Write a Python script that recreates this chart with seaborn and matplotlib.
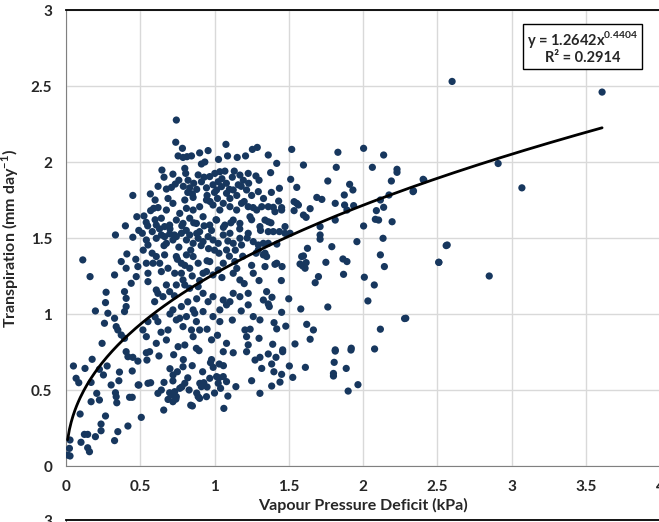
import numpy as np
import pandas as pd
import seaborn as sns
import matplotlib.pyplot as plt

# points (VPD kPa, transpiration mm/day), grouped by area
upper_pts = [
    (0.743, 2.276), (0.739, 2.13), (0.784, 2.09), (0.755, 2.04), (0.788, 2.03), (0.815, 2.035),
    (0.845, 2.04), (0.90, 2.06), (0.957, 2.075), (1.077, 2.116), (1.088, 2.04), (1.027, 2.017),
    (1.153, 2.03), (1.209, 2.04), (1.255, 2.083), (1.288, 2.096), (0.935, 2.0), (0.912, 1.987),
    (0.646, 1.947), (0.80, 1.958), (0.806, 1.925), (0.45, 1.78), (0.568, 1.79), (0.40, 1.58),
    (0.477, 1.64), (0.525, 1.645), (0.54, 1.603), (0.59, 1.695), (0.62, 1.70), (0.676, 1.822),
    (0.71, 1.833), (0.736, 1.855), (0.687, 1.76), (0.80, 1.75), (0.856, 1.767), (1.002, 1.925),
    (1.036, 1.936), (1.07, 1.94), (1.133, 1.94), (1.171, 1.914), (1.227, 1.925), (1.279, 1.908),
    (0.822, 1.88), (0.833, 1.83), (0.851, 1.79), (0.89, 1.915), (0.912, 1.87), (0.946, 1.83),
    (0.968, 1.904), (0.99, 1.85), (1.025, 1.87), (1.014, 1.816), (1.047, 1.838), (1.081, 1.794),
    (1.104, 1.76), (1.126, 1.816), (1.16, 1.85), (1.194, 1.88), (1.216, 1.816), (1.25, 1.78),
    (1.295, 1.805), (1.318, 1.706), (1.34, 1.618), (1.284, 1.684), (1.227, 1.706), (1.182, 1.728),
    (1.149, 1.684), (1.104, 1.706), (1.059, 1.728), (1.036, 1.684), (0.99, 1.717), (0.946, 1.75),
    (0.90, 1.706), (0.856, 1.684), (0.811, 1.695), (0.766, 1.662), (0.743, 1.618), (0.788, 1.596),
    (0.833, 1.63), (0.878, 1.596), (0.923, 1.64), (0.968, 1.585), (1.014, 1.618), (1.07, 1.585),
    (1.126, 1.618), (1.171, 1.596), (1.239, 1.64), (1.306, 1.575), (0.72, 1.728), (0.676, 1.684),
    (0.642, 1.63), (0.664, 1.575), (0.608, 1.585), (0.698, 1.585),
    (0.72, 1.92), (0.76, 1.88), (0.79, 1.84), (0.82, 1.80), (0.86, 1.86), (0.88, 1.82),
    (0.93, 1.90), (0.95, 1.78), (0.97, 1.74), (1.00, 1.80), (1.02, 1.76), (1.05, 1.89),
    (1.08, 1.86), (1.10, 1.82), (1.12, 1.90), (1.15, 1.78), (1.18, 1.84), (1.20, 1.74),
    (1.23, 1.86), (1.26, 1.70), (1.30, 1.88), (1.33, 1.76), (0.62, 1.84), (0.66, 1.90),
    (0.60, 1.75), (0.57, 1.68),
]
upper_right_pts = [
    (1.362, 2.046), (1.52, 2.083), (1.419, 1.991), (1.378, 1.93), (1.599, 1.98), (1.831, 2.064),
    (2.004, 2.09), (2.139, 2.046), (1.82, 1.965), (2.063, 1.965), (2.229, 1.952), (2.229, 1.932),
    (1.513, 1.886), (1.554, 1.833), (1.437, 1.827), (1.383, 1.80), (1.763, 1.875), (1.91, 1.853),
    (1.932, 1.816), (1.874, 1.783), (2.191, 1.875), (2.405, 1.886), (2.337, 1.805), (2.175, 1.783),
    (2.117, 1.75), (2.139, 1.702), (2.09, 1.68), (2.083, 1.623), (2.105, 1.618), (2.196, 1.607),
    (2.004, 1.579), (1.432, 1.743), (1.362, 1.706), (1.396, 1.702), (1.452, 1.70), (1.407, 1.673),
    (1.452, 1.684), (1.536, 1.739), (1.554, 1.728), (1.565, 1.717), (1.536, 1.68), (1.644, 1.693),
    (1.689, 1.767), (1.723, 1.754), (1.813, 1.728), (1.876, 1.717), (1.892, 1.684), (1.937, 1.713),
    (1.599, 1.651), (1.617, 1.636), (1.813, 1.618), (1.711, 1.575), (1.475, 1.575), (1.362, 1.607),
    (1.38, 1.60),
]
middle_pts = [
    (0.333, 1.52), (0.45, 1.505), (0.514, 1.531), (0.541, 1.487), (0.552, 1.454), (0.581, 1.542),
    (0.608, 1.498), (0.642, 1.52), (0.664, 1.509), (0.676, 1.465), (0.698, 1.527), (0.72, 1.487),
    (0.743, 1.509), (0.777, 1.531), (0.811, 1.487), (0.833, 1.52), (0.856, 1.465), (0.89, 1.498),
    (0.90, 1.542), (0.923, 1.476), (0.957, 1.509), (0.99, 1.487), (1.025, 1.465), (1.059, 1.52),
    (1.104, 1.531), (1.126, 1.465), (1.171, 1.498), (1.227, 1.531), (1.261, 1.476), (1.295, 1.454),
    (1.329, 1.465), (0.113, 1.356), (0.162, 1.246), (0.27, 1.143), (0.198, 1.02), (0.266, 1.075),
    (0.282, 1.005), (0.327, 1.257), (0.372, 1.345), (0.41, 1.395), (0.405, 1.301), (0.439, 1.202),
    (0.484, 1.312), (0.473, 1.246), (0.541, 1.334), (0.552, 1.268), (0.552, 1.213), (0.586, 1.334),
    (0.608, 1.378), (0.631, 1.334), (0.642, 1.279), (0.664, 1.389), (0.687, 1.301), (0.732, 1.268),
    (0.743, 1.378), (0.777, 1.334), (0.777, 1.268), (0.788, 1.224), (0.811, 1.389), (0.833, 1.301),
    (0.856, 1.378), (0.89, 1.334), (0.923, 1.268), (0.946, 1.279), (0.968, 1.345), (0.99, 1.257),
    (1.025, 1.29), (1.059, 1.334), (1.081, 1.421), (1.126, 1.268), (1.137, 1.345), (1.171, 1.224),
    (1.182, 1.454), (1.227, 1.136), (1.261, 1.268), (1.295, 1.421), (1.329, 1.389), (1.34, 1.312),
    (0.608, 1.158), (0.619, 1.136), (0.653, 1.114), (0.676, 1.191), (0.698, 1.147), (0.597, 1.081),
    (0.743, 1.191), (0.80, 1.191), (0.833, 1.169), (0.89, 1.18), (0.923, 1.136), (0.957, 1.081),
    (0.99, 1.114), (1.036, 1.027), (1.059, 1.092), (1.081, 1.06), (1.104, 1.081), (1.126, 1.136),
    (1.171, 1.114), (1.227, 1.06), (1.261, 0.983), (1.306, 0.961), (1.329, 1.092), (0.394, 1.147),
    (0.405, 1.103), (0.327, 0.972), (0.338, 0.917), (0.349, 0.895), (0.372, 0.862), (0.394, 0.84),
    (0.405, 1.049), (0.394, 1.016), (0.518, 0.895), (0.541, 0.851), (0.552, 0.95), (0.619, 0.95),
    (0.608, 0.807), (0.687, 0.895), (0.743, 0.961), (0.766, 0.972), (0.788, 0.917), (0.811, 0.983),
    (0.845, 0.895), (0.856, 0.851), (0.867, 1.005), (0.878, 0.95), (0.90, 0.895), (0.923, 1.016),
    (0.99, 0.983), (1.036, 0.95), (0.98, 0.83), (1.081, 0.807), (1.205, 0.895), (1.216, 0.851),
    (1.227, 0.797), (0.259, 0.939), (0.243, 0.807), (0.755, 0.785), (0.80, 0.796), (0.878, 0.774),
    (0.856, 1.027), (0.777, 1.049), (0.72, 1.027), (0.676, 0.829),
    (0.70, 1.56), (0.73, 1.52), (0.76, 1.44), (0.78, 1.58), (0.81, 1.55), (0.84, 1.42),
    (0.86, 1.60), (0.88, 1.53), (0.91, 1.45), (0.93, 1.58), (0.96, 1.43), (0.98, 1.55),
    (1.01, 1.62), (1.03, 1.40), (1.06, 1.57), (1.09, 1.48), (1.11, 1.60), (1.14, 1.42),
    (1.17, 1.56), (1.19, 1.38), (1.22, 1.50), (1.25, 1.62), (1.28, 1.40), (1.31, 1.55),
    (0.60, 1.62), (0.63, 1.56), (0.66, 1.45), (0.58, 1.40), (0.55, 1.58), (0.52, 1.42),
    (0.49, 1.55), (0.47, 1.36), (0.75, 1.36), (0.80, 1.32), (0.85, 1.25), (0.90, 1.22),
    (0.95, 1.35), (1.00, 1.42), (1.05, 1.24), (1.10, 1.38), (1.15, 1.30), (1.20, 1.20),
    (1.25, 1.32), (1.30, 1.22), (1.34, 1.40), (0.64, 0.88), (0.70, 1.00), (0.82, 1.08),
    (0.95, 0.90), (1.02, 0.86), (1.12, 0.96), (1.18, 1.02), (1.24, 0.90), (1.30, 0.84),
    (0.88, 1.10), (0.73, 1.12), (0.60, 0.98),
]
middle_right_pts = [
    (1.362, 1.542), (1.396, 1.542), (1.437, 1.542), (1.475, 1.531), (1.509, 1.531), (1.711, 1.52),
    (1.711, 1.492), (1.362, 1.465), (1.351, 1.378), (1.626, 1.432), (1.79, 1.443), (1.959, 1.476),
    (2.135, 1.498), (2.567, 1.454), (1.587, 1.378), (1.599, 1.382), (1.576, 1.329), (1.594, 1.316),
    (1.617, 1.338), (1.61, 1.301), (1.407, 1.327), (1.419, 1.334), (1.455, 1.312), (1.75, 1.34),
    (1.865, 1.362), (1.892, 1.345), (1.869, 1.261), (1.70, 1.246), (1.678, 1.206), (2.117, 1.389),
    (2.144, 1.312), (2.511, 1.34), (2.009, 1.242), (2.076, 1.191), (2.033, 1.086), (1.351, 1.147),
    (1.387, 1.11), (1.362, 1.066), (1.369, 1.049), (1.452, 1.011), (1.581, 1.033), (1.763, 1.046),
    (2.288, 0.972), (1.401, 0.943), (1.419, 0.902), (1.621, 0.932), (1.666, 0.895), (2.117, 0.90),
    (1.644, 0.834), (1.392, 0.801), (1.542, 0.803), (1.459, 0.764), (1.813, 0.764), (1.921, 0.775),
    (2.078, 0.77), (1.42, 1.46), (1.45, 1.22), (1.48, 0.92), (1.50, 1.10),
]
lower_pts = [
    (0.405, 0.752), (0.45, 0.715), (0.484, 0.69), (0.541, 0.745), (0.563, 0.752), (0.626, 0.724),
    (0.725, 0.732), (0.896, 0.759), (1.059, 0.752), (1.126, 0.745), (1.216, 0.752), (0.417, 0.719),
    (0.05, 0.658), (0.128, 0.642), (0.176, 0.702), (0.225, 0.636), (0.277, 0.658), (0.252, 0.599),
    (0.068, 0.577), (0.086, 0.548), (0.169, 0.55), (0.304, 0.533), (0.36, 0.618), (0.356, 0.561),
    (0.446, 0.625), (0.486, 0.533), (0.545, 0.697), (0.552, 0.544), (0.57, 0.548), (0.721, 0.599),
    (0.788, 0.653), (0.80, 0.544), (0.973, 0.68), (0.991, 0.649), (1.032, 0.671), (0.901, 0.544),
    (0.912, 0.522), (0.928, 0.548), (0.968, 0.577), (1.014, 0.588), (1.059, 0.588), (1.081, 0.555),
    (1.025, 0.544), (1.041, 0.511), (1.144, 0.522), (1.25, 0.561), (1.273, 0.697), (1.306, 0.715),
    (1.318, 0.642), (1.306, 0.478), (0.207, 0.478), (0.169, 0.423), (0.225, 0.434), (0.333, 0.482),
    (0.338, 0.456), (0.342, 0.416), (0.428, 0.452), (0.446, 0.452), (0.491, 0.533), (0.619, 0.478),
    (0.642, 0.50), (0.698, 0.482), (0.716, 0.467), (0.732, 0.489), (0.743, 0.456), (0.766, 0.511),
    (0.687, 0.438), (0.72, 0.423), (0.829, 0.50), (0.851, 0.395), (0.89, 0.456), (0.90, 0.445),
    (0.946, 0.456), (0.658, 0.368), (0.507, 0.32), (0.095, 0.342), (0.266, 0.329), (1.063, 0.379),
    (0.236, 0.276), (0.236, 0.232), (0.417, 0.263), (0.349, 0.226), (0.124, 0.208), (0.146, 0.208),
    (0.198, 0.193), (0.327, 0.167), (0.027, 0.171), (0.101, 0.156), (0.146, 0.12), (0.158, 0.094),
    (0.023, 0.116), (0.011, 0.072), (0.027, 0.066),
    (0.72, 0.56), (0.75, 0.62), (0.78, 0.52), (0.82, 0.58), (0.85, 0.66), (0.88, 0.48),
    (0.92, 0.62), (0.95, 0.52), (0.98, 0.70), (1.00, 0.48), (1.03, 0.58), (1.06, 0.66),
    (1.09, 0.46), (0.74, 0.44), (0.79, 0.70), (0.84, 0.40), (0.70, 0.64), (0.66, 0.55),
]
lower_right_pts = [
    (1.362, 0.737), (1.414, 0.715), (1.459, 0.752), (1.385, 0.671), (1.504, 0.658), (1.452, 0.603),
    (1.441, 0.552), (1.385, 0.526), (1.527, 0.583), (1.612, 0.649), (1.813, 0.756), (1.919, 0.763),
    (1.806, 0.682), (1.887, 0.642), (1.801, 0.609), (1.801, 0.592), (1.966, 0.535), (1.90, 0.493),
    (1.40, 0.62),
]
outlier_pts = [
    (2.60, 2.53), (3.61, 2.46), (2.91, 1.99), (3.07, 1.83), (2.85, 1.25), (2.56, 1.45),
    (2.51, 1.34), (2.28, 0.97), (2.41, 1.88), (2.34, 1.81),
]

# power trendline shown on the chart
coef_a = 1.2642
coef_b = 0.4404
r_squared = 0.2914

all_pts = (upper_pts + upper_right_pts + middle_pts + middle_right_pts
           + lower_pts + lower_right_pts + outlier_pts)
df = pd.DataFrame(all_pts, columns=['vpd', 'transp'])

sns.set_style('white')
plt.rcParams['font.family'] = ['Lato', 'DejaVu Sans']
plt.rcParams['mathtext.fontset'] = 'custom'
plt.rcParams['mathtext.rm'] = 'Lato'
plt.rcParams['mathtext.bf'] = 'Lato:bold'

fig = plt.figure(figsize=(6.59, 5.22), dpi=100)
ax = fig.add_axes([66 / 659, 56 / 522, 594 / 659, 456 / 522])

sns.scatterplot(data=df, x='vpd', y='transp', color='#17375e', s=27, edgecolor='none',
                ax=ax, zorder=3)

xfit = np.linspace(df['vpd'].min(), df['vpd'].max(), 300)
ax.plot(xfit, coef_a * xfit ** coef_b, color='black', lw=2, zorder=4)

ax.set_xlim(0, 4)
ax.set_ylim(0, 3)
ax.set_xticks(np.arange(0, 4.01, 0.5))
ax.set_yticks(np.arange(0, 3.01, 0.5))
ax.set_xticklabels(['0', '0.5', '1', '1.5', '2', '2.5', '3', '3.5', '4'])
ax.set_yticklabels(['0', '0.5', '1', '1.5', '2', '2.5', '3'])
ax.grid(True, color='#d9d9d9', lw=1)
ax.set_axisbelow(True)
for side in ['left', 'bottom']:
    ax.spines[side].set_color('#808080')
ax.spines['top'].set_color('black')
ax.spines['top'].set_linewidth(1.3)
ax.spines['right'].set_visible(False)
ax.tick_params(axis='both', direction='out', length=4, color='#808080', width=1,
               labelsize=11, pad=6)
for lab in ax.get_xticklabels() + ax.get_yticklabels():
    lab.set_fontweight('bold')

ax.set_xlabel('Vapour Pressure Deficit (kPa)', fontsize=11.5, fontweight='bold', labelpad=3)
ax.set_ylabel('Transpiration (mm day$^{\\mathbf{-1}}$)', fontsize=11.5, fontweight='bold',
              labelpad=7)

ax.text(0.8695, 0.918, 'y = %.4fx$^{\\mathbf{%.4f}}$\nR² = %.4f' % (coef_a, coef_b, r_squared),
        transform=ax.transAxes, ha='center', va='center', fontsize=10.5, fontweight='bold',
        linespacing=1.1,
        bbox=dict(boxstyle='square,pad=0.25', fc='white', ec='black', lw=1))

# top of the next chart peeks in at the bottom edge
ax2 = fig.add_axes([66 / 659, -0.5, 594 / 659, 0.5 + 2 / 522])
ax2.set_xlim(0, 4)
ax2.set_ylim(0, 3)
ax2.set_yticks([3])
ax2.set_yticklabels(['3'], fontweight='bold')
ax2.set_xticks([])
ax2.spines['top'].set_color('black')
ax2.spines['top'].set_linewidth(1.3)
ax2.spines['left'].set_color('#808080')
ax2.spines['right'].set_visible(False)
ax2.tick_params(axis='y', direction='out', length=4, color='#808080', labelsize=11, pad=6)

fig.savefig('out.png', dpi=100)
